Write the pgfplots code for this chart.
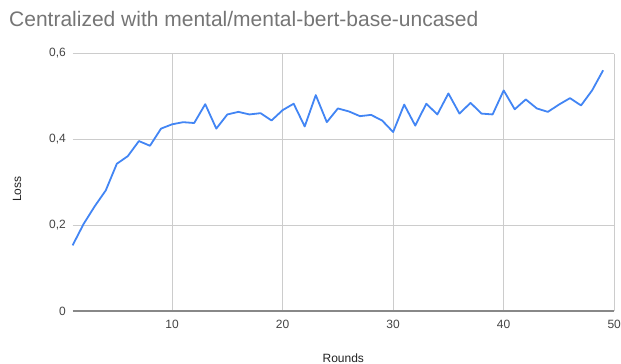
\documentclass[border=0pt]{standalone}
\usepackage{pgfplots}
\pgfplotsset{compat=1.18}
\usepackage{fontspec}
\setmainfont{Liberation Sans}
\definecolor{gblue}{HTML}{4285F4}
\definecolor{ggrid}{HTML}{CCCCCC}
\definecolor{gtitle}{HTML}{757575}
\definecolor{gtick}{HTML}{444444}
\definecolor{gaxis}{HTML}{222222}
\definecolor{gbase}{HTML}{888888}
\begin{document}
\begin{tikzpicture}
\path[use as bounding box] (0pt,0pt) rectangle (621pt,-364pt);
\begin{axis}[
  at={(72.6pt,-311pt)}, anchor=south west,
  scale only axis, width=541.6pt, height=257.5pt,
  xmin=1, xmax=50, ymin=0, ymax=0.6,
  xtick={10,20,30,40,50},
  ytick={0,0.2,0.4,0.6},
  yticklabels={0,{0,2},{0,4},{0,6}},
  /pgf/number format/assume math mode=true,
  grid=major,
  major grid style={ggrid, line width=0.8pt},
  axis line style={draw=none},
  tick style={draw=none},
  ticklabel style={font=\fontsize{12}{14}\selectfont, text=gtick, inner sep=0pt},
  xticklabel style={anchor=north, yshift=-9pt},
  yticklabel style={anchor=east, xshift=-6.6pt},
  clip=false,
]
\draw[gbase, line width=1.3pt] (axis cs:1,0) -- (axis cs:50,0);
\addplot[gblue, line width=1.8pt, no markers, line join=round] coordinates {
(1,0.153)(2,0.203)(3,0.244)(4,0.281)(5,0.343)(6,0.361)(7,0.396)(8,0.385)(9,0.425)(10,0.435)
(11,0.440)(12,0.438)(13,0.482)(14,0.425)(15,0.458)(16,0.464)(17,0.458)(18,0.461)(19,0.444)(20,0.468)
(21,0.483)(22,0.430)(23,0.503)(24,0.440)(25,0.472)(26,0.465)(27,0.454)(28,0.457)(29,0.444)(30,0.417)
(31,0.481)(32,0.432)(33,0.483)(34,0.458)(35,0.507)(36,0.460)(37,0.485)(38,0.460)(39,0.458)(40,0.514)
(41,0.470)(42,0.493)(43,0.472)(44,0.464)(45,0.481)(46,0.496)(47,0.479)(48,0.514)(49,0.561)
};
\end{axis}
\node[anchor=west, text=gtitle, font=\fontsize{21}{24}\selectfont, inner sep=0pt] at (9pt,-19pt) {Centralized with mental/mental-bert-base-uncased};
\node[text=gaxis, font=\fontsize{12}{14}\selectfont, inner sep=0pt] at (343.3pt,-358pt) {Rounds};
\node[rotate=90, text=gaxis, font=\fontsize{12}{14}\selectfont, inner sep=0pt] at (17pt,-189pt) {Loss};
\end{tikzpicture}
\end{document}
